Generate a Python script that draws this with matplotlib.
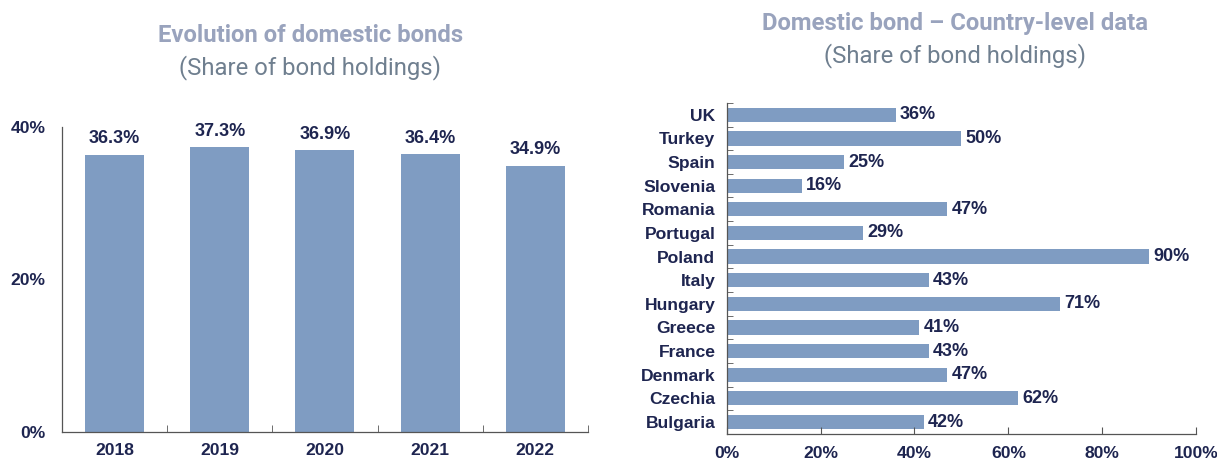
import matplotlib
matplotlib.use("Agg")
import matplotlib.pyplot as plt
import numpy as np

years = ["2018", "2019", "2020", "2021", "2022"]
year_values = [36.3, 37.3, 36.9, 36.4, 34.9]

countries = ["UK", "Turkey", "Spain", "Slovenia", "Romania", "Portugal", "Poland",
             "Italy", "Hungary", "Greece", "France", "Denmark", "Czechia", "Bulgaria"]
country_values = [36, 50, 25, 16, 47, 29, 90, 43, 71, 41, 43, 47, 62, 42]

left_yticks = [0, 20, 40]
right_xticks = [0, 20, 40, 60, 80, 100]

BAR = "#7f9cc2"
NAVY = "#1e2550"
TITLE = "#99a3bd"
SUB = "#6f7f8f"
LBL = ["Liberation Sans", "DejaVu Sans"]
FS = 12.6

fig = plt.figure(figsize=(12.17, 4.68), dpi=100)

# Left chart
ax1 = fig.add_axes([0.051, 0.077, 0.432, 0.652])
x = np.arange(len(years))
ax1.bar(x, year_values, width=0.56, color=BAR)
ax1.set_xlim(-0.5, len(years) - 0.5)
ax1.set_ylim(0, 40)
for xi, v in zip(x, year_values):
    ax1.text(xi, v + 1.0, f"{v:.1f}%", ha="center", va="bottom", fontsize=FS + 0.4,
             fontweight="bold", color=NAVY, family=LBL)
ax1.set_yticks(left_yticks)
ax1.set_yticklabels([f"{t}%" for t in left_yticks], fontsize=FS, fontweight="bold",
                    color=NAVY, family=LBL)
ax1.tick_params(axis="y", length=0, pad=12)
ax1.set_xticks(x)
ax1.set_xticklabels(years, fontsize=FS, fontweight="bold", color=NAVY, family=LBL)
ax1.tick_params(axis="x", length=0, pad=8)
ax1.set_xticks(np.arange(0.5, len(years) - 0.4, 1.0), minor=True)
ax1.tick_params(axis="x", which="minor", direction="in", length=5, color="#555555")
for s in ["top", "right"]:
    ax1.spines[s].set_visible(False)
for s in ["left", "bottom"]:
    ax1.spines[s].set_color("#555555")
    ax1.spines[s].set_linewidth(0.9)

fig.text(0.255, 0.925, "Evolution of domestic bonds", ha="center", va="center",
         fontsize=17.2, fontweight="bold", color=TITLE, family=["Roboto", "DejaVu Sans"])
fig.text(0.255, 0.856, "(Share of bond holdings)", ha="center", va="center",
         fontsize=17.2, color=SUB, family=["Roboto", "DejaVu Sans"])

# Right chart
ax2 = fig.add_axes([0.597, 0.073, 0.386, 0.707])
y = np.arange(len(countries))
ax2.barh(y, country_values, height=0.6, color=BAR)
ax2.set_ylim(len(countries) - 0.5, -0.5)
ax2.set_xlim(0, 100)
for yi, v in zip(y, country_values):
    ax2.text(v + 0.9, yi, f"{v}%", ha="left", va="center", fontsize=FS + 0.4,
             fontweight="bold", color=NAVY, family=LBL)
ax2.set_yticks(y)
ax2.set_yticklabels(countries, fontsize=FS, fontweight="bold", color=NAVY, family=LBL)
ax2.tick_params(axis="y", length=0, pad=8)
ax2.set_yticks(np.arange(-0.5, len(countries), 1.0), minor=True)
ax2.tick_params(axis="y", which="minor", direction="in", length=4, color="#555555")
ax2.set_xticks(right_xticks)
ax2.set_xticklabels([f"{t}%" for t in right_xticks], fontsize=FS, fontweight="bold",
                    color=NAVY, family=LBL)
ax2.tick_params(axis="x", direction="in", length=5, color="#555555", pad=9)
for s in ["top", "right"]:
    ax2.spines[s].set_visible(False)
for s in ["left", "bottom"]:
    ax2.spines[s].set_color("#555555")
    ax2.spines[s].set_linewidth(0.9)

fig.text(0.785, 0.950, "Domestic bond \u2013 Country-level data", ha="center", va="center",
         fontsize=17.2, fontweight="bold", color=TITLE, family=["Roboto", "DejaVu Sans"])
fig.text(0.785, 0.882, "(Share of bond holdings)", ha="center", va="center",
         fontsize=17.2, color=SUB, family=["Roboto", "DejaVu Sans"])

fig.savefig("out.png", dpi=100, facecolor="white")
